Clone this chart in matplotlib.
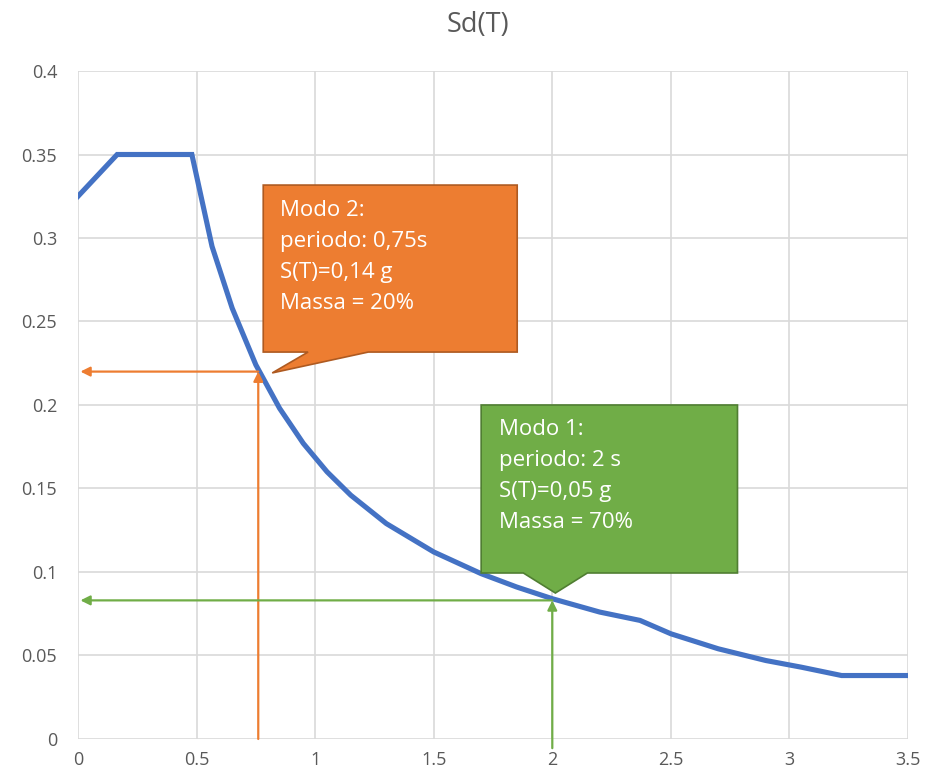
import matplotlib
matplotlib.use("Agg")
import matplotlib.pyplot as plt
from matplotlib.patches import Polygon

# spectrum
T = [0, 0.165, 0.48, 0.565, 0.65, 0.75, 0.85, 0.95, 1.05, 1.15, 1.3, 1.5,
     1.7, 1.85, 2.0, 2.2, 2.37, 2.5, 2.7, 2.9, 3.05, 3.22, 3.5]
Sd = [0.325, 0.35, 0.35, 0.295, 0.258, 0.224, 0.198, 0.177, 0.16, 0.146,
      0.129, 0.112, 0.099, 0.091, 0.084, 0.076, 0.071, 0.063, 0.054, 0.047,
      0.043, 0.038, 0.038]

# modes: period, spectral value read at the arrows
mode_T = [0.76, 2.0]
mode_S = [0.22, 0.083]
mode_text = ["Modo 2:\nperiodo: 0,75s\nS(T)=0,14 g\nMassa = 20%",
             "Modo 1:\nperiodo: 2 s\nS(T)=0,05 g\nMassa = 70%"]

xticks = [0, 0.5, 1, 1.5, 2, 2.5, 3, 3.5]
yticks = [0, 0.05, 0.1, 0.15, 0.2, 0.25, 0.3, 0.35, 0.4]

blue = "#4472C4"
orange = "#ED7D31"
green = "#70AD47"
grey = "#595959"

plt.rcParams['font.family'] = ['Open Sans', 'DejaVu Sans']

fig = plt.figure(figsize=(9.38, 7.76), dpi=100)
ax = fig.add_axes([0.0832, 0.0477, 0.8848, 0.8608])
ax.set_xlim(0, 3.5)
ax.set_ylim(0, 0.4)
ax.set_xticks(xticks)
ax.set_yticks(yticks)
ax.set_xticklabels([f"{v:g}" for v in xticks])
ax.set_yticklabels([f"{v:g}" for v in yticks])
ax.grid(True, color="#D9D9D9", lw=1.2)
ax.set_axisbelow(True)
for s in ax.spines.values():
    s.set_visible(False)
ax.tick_params(length=0, labelsize=13, colors=grey, pad=15)
ax.tick_params(axis='x', pad=9)
fig.text(0.51, 1 - 25 / 776, "Sd(T)", fontsize=19.5, color=grey,
         ha="center", va="center")

ax.plot(T, Sd, color=blue, lw=3.7, solid_joinstyle='miter', zorder=3)

# arrows for each mode
cols = [orange, green]
y_bottom = [0, -0.0055]
for t, s, c, yb in zip(mode_T, mode_S, cols, y_bottom):
    ax.annotate("", xy=(t, s), xytext=(t, yb),
                arrowprops=dict(arrowstyle="-|>", color=c, lw=1.6,
                                mutation_scale=14, shrinkA=0, shrinkB=0),
                annotation_clip=False, zorder=4)
    ax.annotate("", xy=(0.01, s), xytext=(t, s),
                arrowprops=dict(arrowstyle="-|>", color=c, lw=1.6,
                                mutation_scale=14, shrinkA=0, shrinkB=0),
                zorder=4)

# callouts (box + pointer)
callouts = [
    dict(box=(0.781, 1.852, 0.2317, 0.3317), base=(0.97, 1.224),
         tip=(0.819, 0.2192), fc=orange, ec="#AE5A21", tx=(0.852, 0.3225)),
    dict(box=(1.70, 2.781, 0.0994, 0.20), base=(1.878, 2.148),
         tip=(2.013, 0.0874), fc=green, ec="#507E32", tx=(1.776, 0.1915)),
]
for cfg, txt in zip(callouts, mode_text):
    x0, x1, y0, y1 = cfg["box"]
    b0, b1 = cfg["base"]
    pts = [(x0, y1), (x1, y1), (x1, y0), (b1, y0), cfg["tip"], (b0, y0), (x0, y0)]
    ax.add_patch(Polygon(pts, closed=True, fc=cfg["fc"], ec=cfg["ec"],
                         lw=1.2, zorder=5))
    ax.text(cfg["tx"][0], cfg["tx"][1], txt, color="white", fontsize=16,
            va="top", ha="left", linespacing=1.62, zorder=6)

fig.savefig("out.png", dpi=100)
